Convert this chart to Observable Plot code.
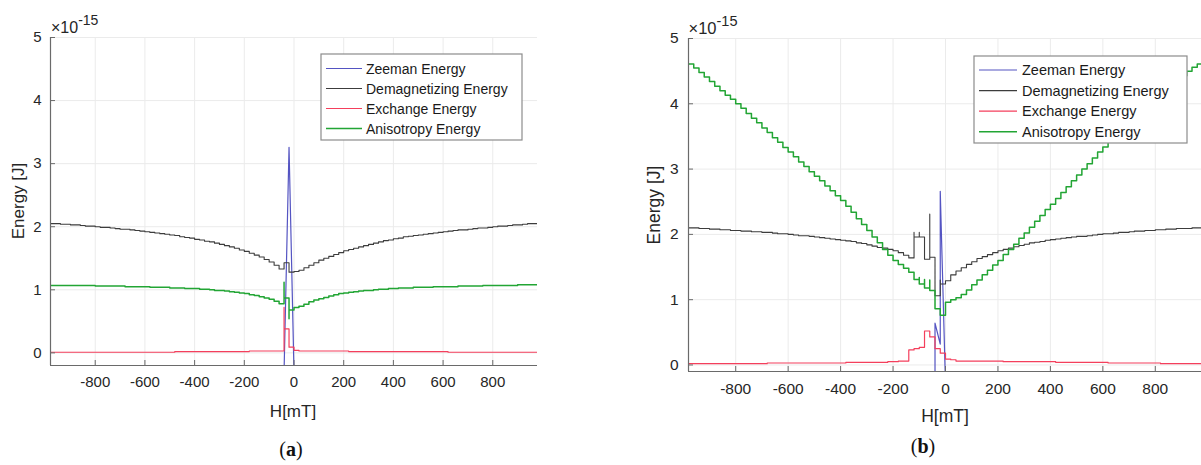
<!DOCTYPE html>
<html><head><meta charset="utf-8">
<script src="https://cdn.jsdelivr.net/npm/d3@7"></script>
<script src="https://cdn.jsdelivr.net/npm/@observablehq/plot@0.6"></script>
<style>
html,body{margin:0;padding:0;background:#fff;overflow:hidden;}
#wrap{position:relative;width:1201px;height:465px;overflow:hidden;font-family:"Liberation Sans",Arial,sans-serif;}
.panel{position:absolute;top:0;}
.panel svg{max-width:none !important;display:block;}
.cap{position:absolute;font-family:"Liberation Serif","DejaVu Serif",serif;font-size:20px;color:#111;transform:translate(-50%,-50%);white-space:nowrap;}
</style></head><body><div id="wrap"></div>
<script>
// ---------- data (energies in units of 1e-15 J) ----------
const seriesNames = ["Zeeman Energy", "Demagnetizing Energy", "Exchange Energy", "Anisotropy Energy"];
const xTicks = [-800, -600, -400, -200, 0, 200, 400, 600, 800];
const yTicks = [0, 1, 2, 3, 4, 5];
const xLabel = "H[mT]";
const yLabel = "Energy [J]";
const captions = ["(a)", "(b)"];

// panel (a)
const hA = [-980,-960,-940,-920,-900,-880,-860,-840,-820,-800,-780,-760,-740,-720,-700,-680,-660,-640,-620,-600,-580,-560,-540,-520,-500,-480,-460,-440,-420,-400,-380,-360,-340,-320,-300,-280,-260,-240,-220,-200,-180,-160,-140,-120,-100,-80,-60,
  -40,-40,-20,-20,0,
  20,40,60,80,100,120,140,160,180,200,220,240,260,280,300,320,340,360,380,400,420,440,460,480,500,520,540,560,580,600,620,640,660,680,700,720,740,760,780,800,820,840,860,880,900,920,940,960,980];
const demagA = [2.05,2.05,2.04,2.04,2.03,2.03,2.02,2.01,2.01,2.00,
  1.99,1.99,1.98,1.97,1.96,1.96,1.95,1.94,1.93,1.92,
  1.91,1.90,1.89,1.88,1.87,1.86,1.84,1.83,1.82,1.80,
  1.79,1.77,1.76,1.74,1.72,1.70,1.68,1.66,1.63,1.61,
  1.58,1.55,1.52,1.48,1.44,1.39,1.33,
  1.43,1.43,1.28,1.28,1.29,
  1.31,1.35,1.39,1.43,1.47,1.50,1.53,1.56,1.59,1.62,
  1.64,1.66,1.68,1.70,1.72,1.74,1.76,1.78,1.79,1.81,
  1.82,1.84,1.85,1.86,1.87,1.88,1.89,1.90,1.91,1.92,
  1.93,1.94,1.95,1.95,1.96,1.97,1.98,1.98,1.99,2.00,
  2.01,2.01,2.02,2.03,2.03,2.04,2.05,2.05,2.06];
const exchA = [0.01,0.01,0.01,0.01,0.01,0.01,0.01,0.01,0.01,0.01,
  0.01,0.01,0.01,0.01,0.01,0.01,0.01,0.01,0.01,0.01,
  0.01,0.01,0.01,0.01,0.01,0.02,0.02,0.02,0.02,0.02,
  0.02,0.02,0.02,0.02,0.02,0.02,0.02,0.02,0.02,0.02,
  0.03,0.03,0.03,0.03,0.03,0.03,0.03,
  0.72,0.38,0.09,0.09,0.04,
  0.03,0.03,0.03,0.03,0.03,0.03,0.03,0.03,0.03,0.03,
  0.02,0.02,0.02,0.02,0.02,0.02,0.02,0.02,0.02,0.02,
  0.02,0.02,0.02,0.02,0.02,0.02,0.02,0.02,0.02,0.02,
  0.01,0.01,0.01,0.01,0.01,0.01,0.01,0.01,0.01,0.01,
  0.01,0.01,0.01,0.01,0.01,0.01,0.01,0.01,0.01];
const anisoA = [1.07,1.07,1.07,1.07,1.07,1.07,1.07,1.07,1.07,1.06,
  1.06,1.06,1.06,1.06,1.06,1.05,1.05,1.05,1.05,1.05,
  1.04,1.04,1.04,1.04,1.03,1.03,1.03,1.02,1.02,1.02,
  1.01,1.01,1.00,0.99,0.99,0.98,0.97,0.96,0.95,0.94,
  0.92,0.91,0.89,0.87,0.85,0.82,0.78,
  1.12,0.87,0.54,0.68,0.72,
  0.74,0.77,0.81,0.84,0.86,0.88,0.90,0.92,0.94,0.95,
  0.96,0.97,0.98,0.99,0.99,1.00,1.01,1.01,1.02,1.02,
  1.03,1.03,1.03,1.04,1.04,1.04,1.04,1.05,1.05,1.05,
  1.05,1.05,1.06,1.06,1.06,1.06,1.06,1.07,1.07,1.07,
  1.07,1.07,1.07,1.07,1.08,1.08,1.08,1.08,1.08];
const zeemanHA = [-60, -40, -20, 0, 20];
const zeemanA = [-3.0, -0.3, 3.26, -0.3, -3.0];

// panel (b)
const hB = [-980,-960,-940,-920,-900,-880,-860,-840,-820,-800,-780,-760,-740,-720,-700,-680,-660,-640,-620,-600,-580,-560,-540,-520,-500,-480,-460,-440,-420,-400,-380,-360,-340,-320,-300,-280,-260,-240,-220,-200,-180,-160,-140,
  -120,-120,-100,-100,-80,-80,-60,-60,-40,-20,-20,0,
  20,40,60,80,100,120,140,160,180,200,220,240,260,280,300,320,340,360,380,400,420,440,460,480,500,520,540,560,580,600,620,640,660,680,700,720,740,760,780,800,820,840,860,880,900,920,940,960,980];
const demagB = [2.10,2.10,2.09,2.09,2.08,2.08,2.07,2.07,2.06,2.06,
  2.05,2.05,2.04,2.04,2.03,2.03,2.02,2.01,2.01,2.00,
  1.99,1.98,1.98,1.97,1.96,1.95,1.94,1.93,1.92,1.91,
  1.90,1.89,1.87,1.86,1.84,1.82,1.80,1.79,1.77,1.75,
  1.72,1.68,1.64,
  2.03,1.96,2.03,1.96,1.62,1.62,2.31,1.65,1.06,1.30,1.24,1.29,
  1.38,1.44,1.49,1.54,1.58,1.63,1.66,1.69,1.72,1.75,
  1.77,1.79,1.81,1.83,1.85,1.87,1.88,1.89,1.91,1.92,
  1.93,1.94,1.95,1.96,1.97,1.97,1.98,1.99,2.00,2.01,
  2.01,2.02,2.03,2.03,2.04,2.05,2.05,2.06,2.06,2.07,
  2.07,2.08,2.08,2.09,2.09,2.09,2.10,2.10,2.10];
const exchB = [0.02,0.02,0.02,0.02,0.02,0.02,0.02,0.02,0.02,0.02,
  0.02,0.02,0.02,0.02,0.02,0.03,0.03,0.03,0.03,0.03,
  0.03,0.03,0.03,0.03,0.03,0.03,0.03,0.03,0.03,0.03,
  0.04,0.04,0.04,0.04,0.04,0.04,0.04,0.04,0.05,0.05,
  0.06,0.06,0.23,
  0.25,0.25,0.27,0.27,0.52,0.52,0.43,0.43,0.25,0.18,0.18,0.09,
  0.08,0.06,0.06,0.06,0.06,0.06,0.06,0.06,0.06,0.06,
  0.05,0.05,0.05,0.05,0.05,0.05,0.05,0.05,0.05,0.05,
  0.04,0.04,0.04,0.04,0.04,0.04,0.04,0.04,0.04,0.04,
  0.03,0.03,0.03,0.03,0.03,0.03,0.03,0.03,0.03,0.03,
  0.02,0.02,0.02,0.02,0.02,0.02,0.02,0.02,0.02];
const anisoB = [4.61,4.55,4.48,4.41,4.34,4.27,4.20,4.13,4.07,4.00,
  3.93,3.85,3.78,3.71,3.63,3.56,3.48,3.41,3.33,3.26,
  3.19,3.11,3.04,2.96,2.89,2.82,2.74,2.67,2.59,2.52,
  2.43,2.34,2.24,2.15,2.06,1.96,1.87,1.77,1.68,1.60,
  1.54,1.48,1.42,
  1.31,1.31,1.34,1.24,1.31,1.18,1.30,1.14,0.86,0.76,0.76,0.96,
  1.00,1.03,1.08,1.15,1.23,1.30,1.38,1.45,1.53,1.60,
  1.69,1.77,1.85,1.94,2.02,2.11,2.20,2.29,2.38,2.46,
  2.55,2.64,2.73,2.82,2.91,3.00,3.08,3.17,3.26,3.34,
  3.42,3.50,3.57,3.64,3.71,3.78,3.85,3.92,3.99,4.05,
  4.12,4.19,4.27,4.36,4.43,4.50,4.56,4.61,4.66];
const zeemanHB = [-60, -40, -40, -20, -20, 0, 20];
const zeemanB = [-3.0, -3.0, 0.64, 0.32, 2.66, -0.3, -3.0];

// ---------- styles ----------
const colors = ["#5454c2", "#3c3c3c", "#f43f5c", "#22a534"];
const gridColor = "#ebebeb";
const axisColor = "#6a6a6a";
const textColor = "#262626";
const FONT = '"Liberation Sans", Arial, sans-serif';

function rows(H, E) { return H.map((h, i) => ({H: h, E: E[i]})); }

function makePanel(p) {
  const plotW = p.width - p.mL - p.mR;
  const plotH = p.height - p.mT - p.mB;
  const svg = Plot.plot({
    width: p.width, height: p.height,
    marginLeft: p.mL, marginRight: p.mR, marginTop: p.mT, marginBottom: p.mB,
    style: {fontFamily: FONT, fontSize: p.fs + "px", color: textColor, background: "transparent", overflow: "visible", maxWidth: "none"},
    x: {domain: [-980, 980], label: null},
    y: {domain: [p.yMin, 5], label: null},
    marks: [
      Plot.gridX(xTicks, {stroke: gridColor, strokeOpacity: 1}),
      Plot.gridY(yTicks, {stroke: gridColor, strokeOpacity: 1}),
      Plot.line(rows(p.zH, p.zE), {x: "H", y: "E", stroke: colors[0], strokeWidth: 1.2, clip: true}),
      Plot.line(rows(p.H, p.demag), {x: "H", y: "E", stroke: colors[1], strokeWidth: 1.1, curve: "step-after", clip: true}),
      Plot.line(rows(p.H, p.exch), {x: "H", y: "E", stroke: colors[2], strokeWidth: 1.2, curve: "step-after", clip: true}),
      Plot.line(rows(p.H, p.aniso), {x: "H", y: "E", stroke: colors[3], strokeWidth: 1.5, curve: "step-after", clip: true}),
      Plot.ruleX(xTicks, {stroke: axisColor, insetTop: plotH - 5}),
      Plot.ruleY(yTicks, {stroke: axisColor, insetRight: plotW - 5}),
      Plot.ruleY([p.yMin], {stroke: axisColor, strokeWidth: 1.2}),
      Plot.ruleX([-980], {stroke: axisColor, strokeWidth: 1.2}),
      Plot.axisX(xTicks, {tickSize: 0, tickPadding: p.xPad, fontSize: p.fs, tickFormat: d => String(d), label: null}),
      Plot.axisY(yTicks, {tickSize: 0, tickPadding: p.yPad, fontSize: p.fs, tickFormat: d => String(d), label: null})
    ]
  });
  svg.style.maxWidth = "none";
  const s = d3.select(svg);
  // axis titles
  s.append("text").attr("transform", `translate(${p.yLab[0]},${p.yLab[1]}) rotate(-90)`)
    .attr("text-anchor", "middle").attr("dy", "0.35em").attr("font-size", p.labFs).attr("fill", textColor)
    .attr("font-family", FONT).text(yLabel);
  s.append("text").attr("x", p.xLab[0]).attr("y", p.xLab[1]).attr("text-anchor", "middle").attr("dy", "0.35em")
    .attr("font-size", p.labFs).attr("fill", textColor).attr("font-family", FONT).text(xLabel);
  // exponent
  const ex = s.append("text").attr("x", p.exp[0]).attr("y", p.exp[1]).attr("font-size", p.fs + 1)
    .attr("text-anchor", "start").attr("fill", textColor).attr("font-family", FONT);
  ex.append("tspan").text("\u00d710");
  ex.append("tspan").attr("dy", -8).attr("font-size", p.fs - 1).text("-15");
  // legend
  const L = p.legend;
  const g = s.append("g").attr("text-anchor", "start");
  g.append("rect").attr("x", L.x).attr("y", L.y).attr("width", L.w).attr("height", L.h)
    .attr("fill", "#fff").attr("stroke", "#8c8c8c").attr("stroke-width", 1.2);
  seriesNames.forEach((name, i) => {
    const yy = L.rowY + i * L.rowH;
    g.append("line").attr("x1", L.lx1).attr("x2", L.lx2).attr("y1", yy).attr("y2", yy)
      .attr("stroke", colors[i]).attr("stroke-width", i === 3 ? 1.5 : 1.2);
    g.append("text").attr("x", L.tx).attr("y", yy).attr("dy", "0.36em").attr("font-size", L.fs)
      .attr("text-anchor", "start").attr("fill", "#1a1a1a").attr("font-family", FONT).text(name);
  });
  return svg;
}

const wrap = document.getElementById("wrap");

const divA = document.createElement("div");
divA.className = "panel"; divA.style.left = "0px"; divA.style.width = "560px";
divA.appendChild(makePanel({
  H: hA, demag: demagA, exch: exchA, aniso: anisoA, zH: zeemanHA, zE: zeemanA,
  yMin: -0.2, width: 560, height: 420, mL: 50, mR: 23, mT: 37, mB: 55,
  fs: 15, labFs: 17, xPad: 11, yPad: 9,
  yLab: [18, 201], xLab: [293, 411], exp: [51, 33],
  legend: {x: 321, y: 54, w: 201, h: 86, rowY: 68.5, rowH: 20, lx1: 326, lx2: 362, tx: 366, fs: 14}
}));
wrap.appendChild(divA);

const divB = document.createElement("div");
divB.className = "panel"; divB.style.left = "600px"; divB.style.width = "640px";
divB.appendChild(makePanel({
  H: hB, demag: demagB, exch: exchB, aniso: anisoB, zH: zeemanHB, zE: zeemanB,
  yMin: -0.1, width: 640, height: 425, mL: 88, mR: 38, mT: 38, mB: 54,
  fs: 15.5, labFs: 17.5, xPad: 11, yPad: 10,
  yLab: [54, 205], xLab: [345, 416], exp: [88.5, 34],
  legend: {x: 374, y: 56, w: 213, h: 87, rowY: 70, rowH: 20.6, lx1: 379, lx2: 417, tx: 422, fs: 14.5}
}));
wrap.appendChild(divB);

const capA = document.createElement("div");
capA.className = "cap"; capA.style.left = "291px"; capA.style.top = "449px";
capA.innerHTML = "(<b>" + captions[0].slice(1, 2) + "</b>)";
wrap.appendChild(capA);
const capB = document.createElement("div");
capB.className = "cap"; capB.style.left = "923px"; capB.style.top = "446px";
capB.innerHTML = "(<b>" + captions[1].slice(1, 2) + "</b>)";
wrap.appendChild(capB);
</script>
</body></html>
